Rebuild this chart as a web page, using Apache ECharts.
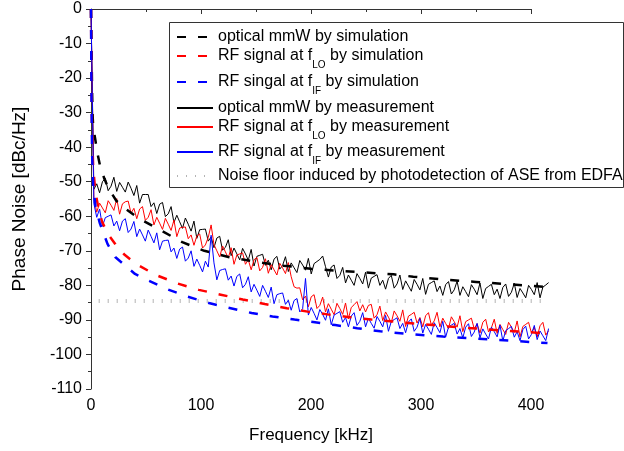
<!DOCTYPE html>
<html>
<head>
<meta charset="utf-8">
<title>Phase noise</title>
<script src="https://cdn.jsdelivr.net/npm/echarts@6/dist/echarts.min.js"></script>
<style>
  html, body { margin: 0; padding: 0; background: #fff; }
  #chart { width: 624px; height: 451px; }
</style>
</head>
<body>
<div id="chart"></div>
<script>
// ---- data ----
// simulations (smooth curves), frequency in kHz, phase noise in dBc/Hz
const blackSimFreq = [0, 0.5, 1, 1.5, 2, 4, 6, 8, 12, 16, 23, 30, 43, 63, 83, 103, 125, 150, 175, 200, 225, 250, 275, 293, 320, 350, 380, 415];
const blackSimVal  = [0, -12, -24, -31, -34, -38, -42, -45, -49, -52, -55.5, -57.5, -60.5, -64, -67.5, -70, -71.8, -73.2, -74.3, -75.2, -75.8, -76.3, -76.8, -77.5, -78.3, -79, -79.7, -80.5];

const redSimFreq = [0, 0.5, 1, 2, 4, 7, 10, 15, 22, 30, 41, 59, 79, 98, 118, 138, 158, 178, 197, 215, 235, 255, 275, 300, 325, 350, 375, 400, 415];
const redSimVal  = [0, -22, -36, -46, -53, -58, -61.5, -65, -68, -71, -73.8, -77, -79.5, -81.3, -82.7, -84.1, -85.4, -86.6, -87.6, -88.4, -89.2, -89.9, -90.5, -91.2, -91.9, -92.5, -93.1, -93.6, -93.9];

const blueSimFreq = [0, 0.5, 1, 2, 4, 8, 15, 22, 30, 40, 50, 70, 88, 108, 127, 146, 165, 185, 202, 222, 242, 263, 290, 320, 350, 380, 415];
const blueSimVal  = [0, -28, -42, -51, -57, -62, -68, -71.8, -74, -76.7, -78.3, -81.2, -83.3, -85.2, -86.6, -88, -89, -89.9, -90.6, -91.5, -92.4, -93.3, -94.1, -94.8, -95.4, -96, -96.7];

// measurements: one value every MEAS_STEP kHz starting at 0 (traces run a bit past 400 kHz)
const MEAS_STEP = 2.6;
const blackMeas = [
  0, -52.2, -50.6, -53.2, -50, -49, -52.6, -51.3, -48.7, -52.8,
  -50.2, -51.6, -53, -50.1, -51.9, -54, -51.1, -56.2, -53.7, -53.7,
  -53.7, -57.2, -56.1, -59.2, -56.5, -56, -60.1, -59.3, -57.2, -61.8,
  -59.7, -61.6, -63.5, -60.5, -62.3, -64.3, -61.4, -66.4, -63.9, -63.8,
  -63.7, -67.2, -66, -69.1, -66.3, -65.8, -69.8, -69, -66.8, -71.4,
  -69.2, -70.9, -72.6, -69.3, -70.9, -72.7, -69.6, -74.4, -71.6, -71.3,
  -71, -74.2, -72.7, -75.5, -72.4, -71.6, -75.3, -74.2, -71.7, -76,
  -73.5, -74.9, -76.3, -72.8, -74.1, -75.6, -72.2, -76.7, -73.7, -73.1,
  -72.5, -71.5, -74.6, -77.6, -74.7, -74.1, -78, -77.1, -74.8, -79.3,
  -77, -78.5, -80, -76.6, -78, -79.6, -76.2, -80.8, -77.9, -77.4,
  -76.9, -80, -78.5, -81.1, -78, -77.1, -80.8, -79.6, -77, -81.2,
  -78.7, -80.2, -81.7, -78.3, -79.7, -81.3, -78, -82.6, -79.7, -79.2,
  -78.7, -81.8, -80.2, -82.9, -79.8, -78.9, -82.5, -81.3, -78.8, -82.9,
  -80.4, -81.8, -83.3, -79.8, -81.1, -82.7, -79.3, -83.8, -80.9, -80.3,
  -79.7, -82.7, -81.1, -83.8, -80.6, -79.6, -83.2, -82, -79.4, -83.5,
  -80.9, -82.2, -83.6, -80, -81.2, -82.7, -79.2, -83.6, -80.5, -79.9,
  -79.2
];
const redMeas = [
  0, -54.7, -58.8, -56.2, -57.6, -59, -55.5, -56.8, -58.3, -54.9,
  -59.4, -56.4, -55.8, -55.6, -59.1, -57.7, -60.7, -57.9, -57.2, -61.2,
  -60.3, -58.1, -62.5, -60.3, -62, -63.8, -60.6, -62.3, -64.1, -61.1,
  -65.9, -63.4, -63.2, -63.1, -66.5, -65.4, -68.4, -65.7, -65.1, -69.2,
  -68.3, -66.1, -62.5, -68.2, -70, -71.8, -68.6, -70.3, -72.1, -69.1,
  -73.9, -71.2, -70.9, -70.6, -73.9, -72.6, -75.5, -72.6, -71.9, -75.8,
  -74.8, -72.3, -76.5, -74, -75.5, -77, -73.6, -75, -76.6, -73.4,
  -77.5, -80.4, -80.8, -80.7, -84.2, -83.1, -86.2, -83.3, -82.7, -86.7,
  -85.8, -83.4, -87.7, -85.3, -86.9, -88.5, -85.2, -86.7, -88.4, -85.1,
  -89.7, -86.4, -85.6, -84.7, -87.4, -85.6, -87.7, -85.8, -85.5, -89.5,
  -88.5, -86, -90.2, -87.7, -89.2, -90.8, -87.4, -88.8, -90.4, -87.1,
  -91.9, -88.9, -88.4, -87.8, -90.9, -89.3, -92, -88.8, -87.9, -91.5,
  -90.3, -87.8, -92, -89.5, -91, -92.5, -89.1, -90.5, -92.1, -88.8,
  -93.4, -90.5, -90, -89.5, -92.6, -91.1, -93.8, -90.7, -89.8, -93.5,
  -92.3, -89.8, -93.9, -91.3, -92.8, -94.2, -90.7, -92.1, -93.6, -90.3,
  -94.9, -91.9, -91.3, -90.7, -93.8, -92.2, -94.9, -91.7, -90.7, -94.4,
  -93.1
];
const blueMeas = [
  0, -56.3, -60.3, -57.9, -62.9, -60.4, -60, -59.6, -62.8, -61.4,
  -64.2, -61.4, -60.7, -64.7, -63.7, -61.5, -65.9, -63.7, -65.4, -67.2,
  -64, -65.8, -67.7, -64.8, -69.7, -67.2, -67, -66.9, -70.3, -69.2,
  -72.2, -69.5, -68.9, -73, -72.1, -70, -74.5, -72.4, -74.2, -76.1,
  -73, -74.7, -65.5, -73.5, -78.4, -75.7, -75.4, -75.2, -78.5, -77.3,
  -80.2, -77.4, -76.7, -80.7, -79.7, -77.5, -81.9, -79.7, -81.4, -83.2,
  -80, -81.7, -83.5, -80.5, -85.3, -82.7, -82.4, -82.2, -85.5, -84.3,
  -87.2, -84.4, -83.8, -87.7, -86.8, -78, -88.6, -86.4, -88.1, -90,
  -87, -88.4, -90.1, -86.8, -91.4, -88.6, -88.1, -87.6, -90.7, -89.3,
  -92, -88.9, -87.9, -91.6, -90.4, -87.9, -92, -89.5, -91, -92.4,
  -89, -90.4, -92, -88.7, -93.3, -90.4, -89.9, -89.4, -92.5, -91,
  -93.7, -90.6, -89.7, -93.3, -92.1, -89.6, -93.8, -91.3, -92.7, -94.2,
  -90.8, -92.2, -93.7, -90.4, -95, -92.1, -91.5, -91, -94.1, -92.5,
  -95.2, -92.1, -91.1, -94.8, -93.5, -91, -95.2, -92.6, -94.1, -95.5,
  -92.1, -93.4, -94.9, -91.5, -96.1, -93.1, -92.5, -91.9, -95, -93.4,
  -96, -92.8, -91.8, -95.5, -94.2, -91.6, -95.7, -93.2, -94.6, -96,
  -92.5
];

// noise floor (flat)
const noiseFreq = [7, 415];
const noiseVal  = [-84.5, -84.5];

// axis ticks
const xTicks = [0, 100, 200, 300, 400];
const yTicks = [-110, -100, -90, -80, -70, -60, -50, -40, -30, -20, -10, 0];
const X_DATA_MAX = 415; // the traces run past the last tick

// legend entries, in the order shown in the box
const seriesNames = [
  'optical mmW by simulation',
  'RF signal at fLO by simulation',
  'RF singal at fIF by simulation',
  'optical mmW by measurement',
  'RF signal at fLO by measurement',
  'RF signal at fIF by measurement',
  'Noise floor induced by photodetection of ASE from EDFA'
];
const legendText = [
  '{n|optical mmW by simulation}',
  '{n|RF signal at f}{s|LO}{n| by simulation}',
  '{n|RF singal at f}{s|IF}{n| by simulation}',
  '{n|optical mmW by measurement}',
  '{n|RF signal at f}{s|LO}{n| by measurement}',
  '{n|RF signal at f}{s|IF}{n| by measurement}',
  '{n|Noise floor induced by photodetection of ASE from EDFA}'
];

// ---- layout ----
const FONT = 'Arial, "Liberation Sans", sans-serif';
const W = 624;
const PLOT_LEFT = 91, PLOT_RIGHT_PX = 531, PLOT_TOP = 9, PLOT_BOTTOM = 62;
// the visible axes stop at 400 kHz; the data grid keeps the same kHz/px scale up to X_DATA_MAX
const pxPerKHz = (PLOT_RIGHT_PX - PLOT_LEFT) / xTicks[xTicks.length - 1];
const dataRight = W - (PLOT_LEFT + X_DATA_MAX * pxPerKHz);

// legend box and the centre line of each of its rows
const LEGEND_BOX = { x: 169, y: 22, width: 454, height: 165 };
const legendRowY = [36, 55, 81, 107, 126, 151, 175];
const ICON_H = 14;

const zip = (xs, ys) => xs.map((x, i) => [x, ys[i]]);
const measPairs = ys => ys.map((y, i) => [i * MEAS_STEP, y]);

const chart = echarts.init(document.getElementById('chart'), null, { renderer: 'canvas' });

const dashed = [9, 12];
const simLine = (name, color, xs, ys) => ({
  name, type: 'line', xAxisIndex: 1, yAxisIndex: 1,
  data: zip(xs, ys), symbol: 'none', z: 3,
  lineStyle: { color, width: 2.5, type: dashed }, itemStyle: { color }
});
const measLine = (name, color, ys) => ({
  name, type: 'line', xAxisIndex: 1, yAxisIndex: 1,
  data: measPairs(ys), symbol: 'none', z: 2,
  lineStyle: { color, width: 1 }, itemStyle: { color }
});

const axisGray = '#333';

const legendRich = {
  n: { fontFamily: FONT, fontSize: 16, lineHeight: 28, color: '#000' },
  s: { fontFamily: FONT, fontSize: 10, lineHeight: 12, verticalAlign: 'bottom', color: '#000' }
};

// one legend per row so every row sits where it does in the figure
const legends = seriesNames.map((name, i) => ({
  data: [name],
  left: LEGEND_BOX.x + 7,
  top: legendRowY[i] - ICON_H / 2,
  padding: 0,
  itemWidth: 36,
  itemHeight: ICON_H,
  itemStyle: { opacity: 0 },
  selectedMode: false,
  z: 5,
  formatter: () => legendText[i],
  textStyle: { rich: legendRich }
}));

const option = {
  animation: false,
  backgroundColor: '#fff',
  textStyle: { fontFamily: FONT },
  grid: [
    { left: PLOT_LEFT, right: W - PLOT_RIGHT_PX, top: PLOT_TOP, bottom: PLOT_BOTTOM },
    { left: PLOT_LEFT, right: dataRight, top: PLOT_TOP, bottom: PLOT_BOTTOM }
  ],
  graphic: [{
    type: 'rect',
    z: 4,
    shape: { x: LEGEND_BOX.x + 0.5, y: LEGEND_BOX.y + 0.5, width: LEGEND_BOX.width, height: LEGEND_BOX.height },
    style: { fill: '#fff', stroke: axisGray, lineWidth: 1 }
  }],
  legend: legends,
  xAxis: [
    {
      type: 'value',
      gridIndex: 0,
      min: xTicks[0],
      max: xTicks[xTicks.length - 1],
      interval: 100,
      name: 'Frequency [kHz]',
      nameLocation: 'middle',
      nameGap: 38,
      nameTextStyle: { fontSize: 17, color: '#000', fontFamily: FONT },
      axisLine: { lineStyle: { color: axisGray, width: 1 } },
      axisTick: { length: 5, lineStyle: { color: axisGray } },
      minorTick: { show: true, splitNumber: 2, length: 3, lineStyle: { color: axisGray } },
      axisLabel: { fontSize: 16, color: '#000', margin: 9, fontFamily: FONT },
      splitLine: { show: false }
    },
    { type: 'value', gridIndex: 1, min: 0, max: X_DATA_MAX, show: false }
  ],
  yAxis: [
    {
      type: 'value',
      gridIndex: 0,
      min: yTicks[0],
      max: yTicks[yTicks.length - 1],
      interval: 10,
      name: 'Phase Noise [dBc/Hz]',
      nameLocation: 'middle',
      nameGap: 62,
      nameTextStyle: { fontSize: 19, color: '#000', fontFamily: FONT },
      axisLine: { show: true, lineStyle: { color: axisGray, width: 1 } },
      axisTick: { show: true, length: 5, lineStyle: { color: axisGray } },
      minorTick: { show: true, splitNumber: 2, length: 3, lineStyle: { color: axisGray } },
      axisLabel: { fontSize: 16, color: '#000', margin: 9, fontFamily: FONT },
      splitLine: { show: false }
    },
    { type: 'value', gridIndex: 1, min: yTicks[0], max: yTicks[yTicks.length - 1], show: false }
  ],
  series: [
    {
      name: seriesNames[6], type: 'line', xAxisIndex: 1, yAxisIndex: 1,
      data: zip(noiseFreq, noiseVal), symbol: 'none', z: 1,
      lineStyle: { color: '#b4b4b4', width: 4, type: [1, 8] }, itemStyle: { color: '#b4b4b4' }
    },
    measLine(seriesNames[3], '#000000', blackMeas),
    measLine(seriesNames[4], '#ff0000', redMeas),
    measLine(seriesNames[5], '#0000ff', blueMeas),
    simLine(seriesNames[0], '#000000', blackSimFreq, blackSimVal),
    simLine(seriesNames[1], '#ff0000', redSimFreq, redSimVal),
    simLine(seriesNames[2], '#0000ff', blueSimFreq, blueSimVal)
  ]
};

chart.setOption(option);
</script>
</body>
</html>
